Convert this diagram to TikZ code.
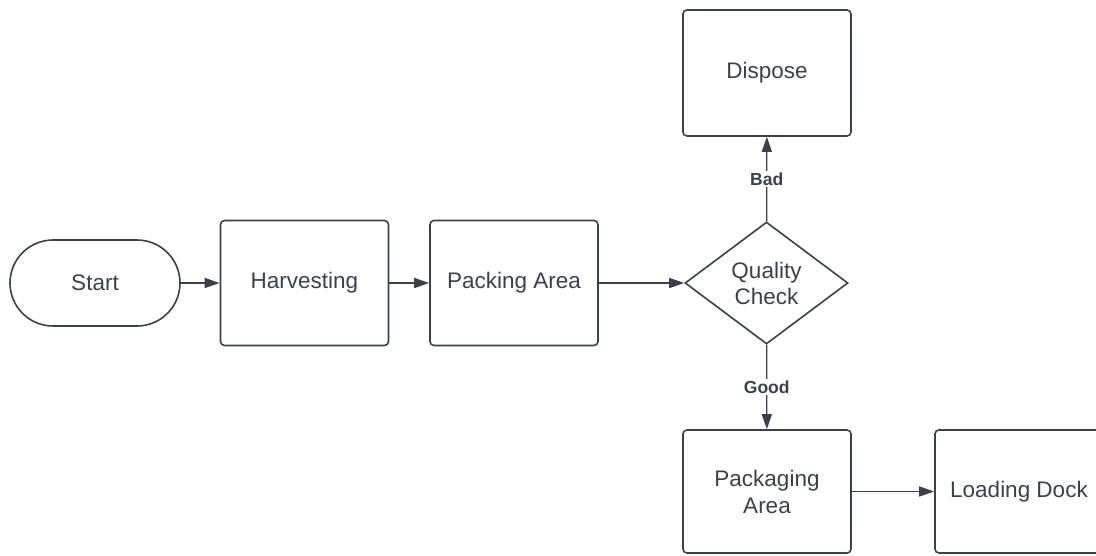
\documentclass[tikz,border=0pt]{standalone}
\usepackage{fontspec}
\setmainfont{Liberation Sans}
\usepackage{xcolor}
\usetikzlibrary{arrows.meta,shapes.geometric}
\definecolor{ink}{HTML}{3A414A}

\begin{document}
\begin{tikzpicture}[x=1pt,y=-1pt,
  box/.style={draw=ink, line width=1.6pt, rounded corners=4pt, minimum width=168pt, minimum height=125pt, inner sep=0pt, align=center, text=ink, font=\fontsize{22.5}{27}\selectfont},
  decision/.style={diamond, draw=ink, line width=1.6pt, minimum width=163pt, minimum height=122pt, inner sep=0pt, align=center, text=ink, font=\fontsize{22.5}{26}\selectfont},
  flow/.style={draw=ink, line width=1.2pt, -{Triangle[length=15pt,width=10pt]}},
  lbl/.style={fill=white, text=ink, inner sep=2pt, font=\bfseries\fontsize{17.5}{20}\selectfont}]
\useasboundingbox (0,0) rectangle (1096,555);

\node[box, minimum width=170pt, minimum height=86pt, rounded corners=43pt](start) at (95,283) {Start};
\node[box](harvest) at (304.5,283) {Harvesting};
\node[box](packing) at (514,283) {Packing Area};
\node[decision](check) at (766.5,283) {Quality\\Check};
\node[box, minimum height=126pt](dispose) at (767,73) {Dispose};
\node[box, minimum height=123pt](packaging) at (767,491.5) {Packaging\\Area};
\node[box, minimum height=123pt](loading) at (1019,491.5) {Loading Dock};

\draw[flow] (start) -- (harvest);
\draw[flow] (harvest) -- (packing);
\draw[flow] (packing) -- (check);
\draw[flow] (check) -- node[lbl]{Bad} (dispose);
\draw[flow] (check) -- node[lbl]{Good} (packaging);
\draw[flow] (packaging) -- (loading);

\end{tikzpicture}
\end{document}
